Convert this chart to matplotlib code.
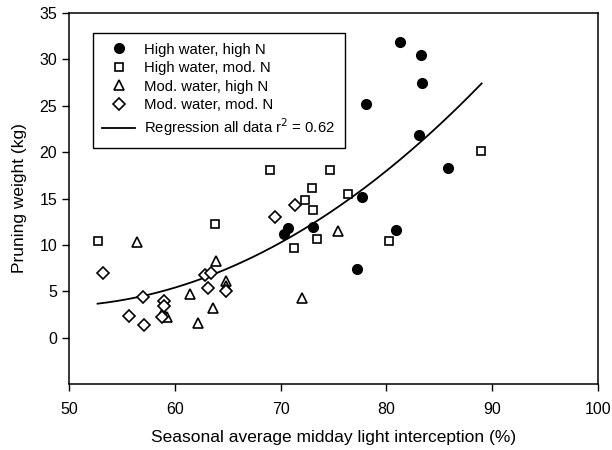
import numpy as np
import matplotlib
matplotlib.use("Agg")
import matplotlib.pyplot as plt

plt.rcParams['font.family'] = ['Liberation Sans', 'DejaVu Sans']

# High water, high N (filled circles)
hw_hn_x = [81.3, 83.3, 83.4, 78.1, 83.1, 85.8, 77.7, 80.9, 77.25, 70.3, 70.7, 73.1]
hw_hn_y = [31.9, 30.5, 27.4, 25.2, 21.8, 18.3, 15.2, 11.6, 7.4, 11.2, 11.8, 11.9]

# High water, mod. N (open squares)
hw_mn_x = [52.7, 63.8, 69.0, 74.7, 72.3, 73.0, 73.05, 71.3, 73.4, 76.4, 80.2, 88.9]
hw_mn_y = [10.4, 12.3, 18.1, 18.1, 14.8, 16.1, 13.8, 9.7, 10.6, 15.5, 10.4, 20.1]

# Mod. water, high N (open triangles)
mw_hn_x = [56.4, 58.9, 59.3, 61.4, 62.2, 63.6, 63.9, 64.8, 64.8, 72.0, 75.4]
mw_hn_y = [10.35, 2.8, 2.2, 4.65, 1.6, 3.2, 8.3, 6.1, 5.6, 4.3, 11.5]

# Mod. water, mod. N (open diamonds)
mw_mn_x = [53.2, 55.7, 57.0, 57.1, 59.0, 59.0, 58.8, 62.9, 63.4, 63.1, 64.8, 69.5, 71.35]
mw_mn_y = [7.0, 2.3, 4.4, 1.4, 3.9, 3.4, 2.2, 6.7, 7.0, 5.3, 5.0, 13.0, 14.3]

# Regression curve, points
reg_x = [52.7, 57.0, 62.6, 67.0, 73.3, 77.4, 83.1, 89.0]
reg_y = [3.65, 4.5, 6.5, 8.5, 11.9, 16.0, 21.3, 27.2]

x_ticks = [50, 60, 70, 80, 90, 100]
y_ticks = [0, 5, 10, 15, 20, 25, 30, 35]

fig = plt.figure(figsize=(6.12, 4.5), dpi=100)
ax = fig.add_axes([69/612, 66/450, 529/612, 371/450])

ax.plot(hw_hn_x, hw_hn_y, linestyle='none', marker='o', ms=7, mfc='black', mec='black',
        label='High water, high N', zorder=3)
ax.plot(hw_mn_x, hw_mn_y, linestyle='none', marker='s', ms=6, mfc='white', mec='black', mew=1.2,
        label='High water, mod. N', zorder=3)
ax.plot(mw_hn_x, mw_hn_y, linestyle='none', marker='^', ms=7, mfc='white', mec='black', mew=1.2,
        label='Mod. water, high N', zorder=3)
ax.plot(mw_mn_x, mw_mn_y, linestyle='none', marker='D', ms=6, mfc='white', mec='black', mew=1.2,
        label='Mod. water, mod. N', zorder=3)

coef = np.polyfit(reg_x, reg_y, 2)
xs = np.linspace(min(reg_x), max(reg_x), 200)
ax.plot(xs, np.polyval(coef, xs), color='black', lw=1.3,
        label='Regression all data r$^2$ = 0.62', zorder=2)

ax.set_xlim(50, 100)
ax.set_ylim(-5, 35)
ax.set_xticks(x_ticks)
ax.set_yticks(y_ticks)
ax.tick_params(direction='out', length=5, width=1, labelsize=11.5, colors='black')
ax.tick_params(axis='x', pad=8)
for s in ax.spines.values():
    s.set_linewidth(1.1)

ax.set_xlabel('Seasonal average midday light interception (%)', fontsize=12.5, labelpad=9)
ax.set_ylabel('Pruning weight (kg)', fontsize=12.5, labelpad=9)

leg = ax.legend(loc='upper left', bbox_to_anchor=(0.045, 0.946), fontsize=10.7,
                frameon=True, fancybox=False, edgecolor='black', framealpha=1,
                handlelength=2.2, handletextpad=0.6, borderpad=0.65, labelspacing=0.3,
                borderaxespad=0)
leg.get_frame().set_linewidth(1.0)

fig.savefig('out.png', dpi=100)
